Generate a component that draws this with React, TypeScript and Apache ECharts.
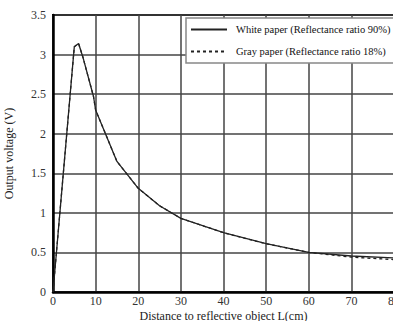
import React, { useEffect, useRef } from "react";
import * as echarts from "echarts";

const distances = [0, 5, 6, 7, 9.5, 10, 15, 20, 25, 30, 40, 50, 60, 70, 80];
const whiteVals = [0, 3.1, 3.14, 2.97, 2.47, 2.3, 1.65, 1.31, 1.09, 0.93, 0.75, 0.61, 0.5, 0.455, 0.43];
const grayVals = [0, 3.1, 3.14, 2.97, 2.47, 2.3, 1.65, 1.31, 1.09, 0.93, 0.75, 0.61, 0.5, 0.44, 0.41];
const seriesNames = ["White paper (Reflectance ratio 90%)", "Gray paper (Reflectance ratio 18%)"];

const FONT = "'Liberation Serif', 'DejaVu Serif', serif";

export default function App() {
  const ref = useRef<HTMLDivElement>(null);
  useEffect(() => {
    if (!ref.current) return;
    const chart = echarts.init(ref.current, null, { renderer: "svg" });
    chart.setOption({
      animation: false,
      backgroundColor: "#fff",
      textStyle: { fontFamily: FONT },
      grid: {
        left: 53,
        top: 15,
        width: 341,
        height: 277,
        containLabel: false,
        outerBoundsMode: "none",
        show: true,
        borderColor: "#000",
        borderWidth: 2,
        backgroundColor: "transparent",
      },
      legend: {
        orient: "vertical",
        left: 186,
        top: 18,
        padding: [6, 9, 6, 4],
        itemGap: 11,
        itemWidth: 36,
        itemHeight: 10,
        backgroundColor: "#fff",
        borderColor: "#888",
        borderWidth: 1.5,
        borderRadius: 0,
        itemStyle: { opacity: 0 },
        textStyle: { fontFamily: FONT, fontSize: 10.5, color: "#111", padding: [0, 0, 0, 4] },
        data: seriesNames,
      },
      xAxis: {
        type: "value",
        min: 0,
        max: 80,
        interval: 10,
        name: "Distance to reflective object L(cm)",
        nameLocation: "middle",
        nameGap: 18,
        nameMoveOverlap: false,
        nameTextStyle: { fontFamily: FONT, fontSize: 12, color: "#222" },
        axisLine: { show: true, lineStyle: { color: "#000", width: 2.5 } },
        axisTick: { show: false },
        axisLabel: { fontFamily: FONT, fontSize: 12, color: "#333", margin: 3 },
        splitLine: { show: true, lineStyle: { color: "#444", width: 1.5 } },
      },
      yAxis: {
        type: "value",
        min: 0,
        max: 3.5,
        interval: 0.5,
        name: "Output voltage (V)",
        nameLocation: "middle",
        nameGap: 38,
        nameMoveOverlap: false,
        nameTextStyle: { fontFamily: FONT, fontSize: 12, color: "#222" },
        axisLine: { show: true, lineStyle: { color: "#000", width: 2.5 } },
        axisTick: { show: false },
        axisLabel: { fontFamily: FONT, fontSize: 12, color: "#333", margin: 7 },
        splitLine: { show: true, lineStyle: { color: "#444", width: 1.5 } },
      },
      series: [
        {
          name: seriesNames[0],
          type: "line",
          data: distances.map((d, i) => [d, whiteVals[i]]),
          symbol: "none",
          lineStyle: { color: "#222", width: 1.3, type: "solid" },
          itemStyle: { color: "#222" },
          z: 3,
        },
        {
          name: seriesNames[1],
          type: "line",
          data: distances.map((d, i) => [d, grayVals[i]]),
          symbol: "none",
          lineStyle: { color: "#222", width: 1.3, type: [3, 3] },
          itemStyle: { color: "#222" },
          z: 2,
        },
      ],
    });
    return () => chart.dispose();
  }, []);
  return <div ref={ref} style={{ position: "fixed", left: 0, top: 0, width: 393, height: 321 }} />;
}
